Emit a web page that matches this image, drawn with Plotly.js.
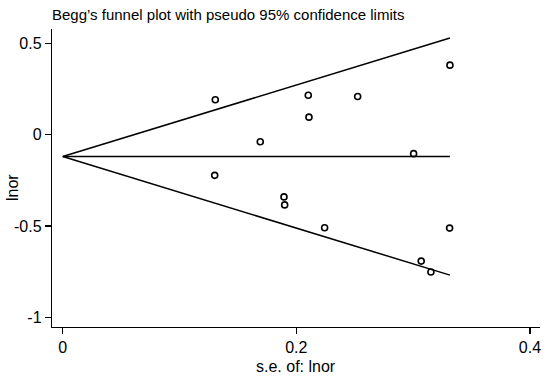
<!DOCTYPE html>
<html>
<head>
<meta charset="utf-8">
<script src="https://cdn.plot.ly/plotly-3.0.1.min.js"></script>
<style>html,body{margin:0;padding:0;background:#fff;}#chart{width:550px;height:380px;}</style>
</head>
<body>
<div id="chart"></div>
<script>
// Study standard errors and log odds ratios
var seValues = [0.1306, 0.2102, 0.2525, 0.2108, 0.1691, 0.3004, 0.1301, 0.1894, 0.1900, 0.2242, 0.3315, 0.3312, 0.3069, 0.3152];
var lnorValues = [0.192, 0.217, 0.210, 0.097, -0.038, -0.103, -0.222, -0.340, -0.384, -0.509, 0.382, -0.511, -0.692, -0.752];
var pooledEstimate = -0.119;
var z95 = 1.96;
var xTickVals = [0, 0.2, 0.4];
var xTickText = ["0", "0.2", "0.4"];
var yTickVals = [-1, -0.5, 0, 0.5];
var yTickText = ["-1", "-0.5", "0", "0.5"];

var seMax = Math.max.apply(null, seValues);
var lineX = [0, seMax];
var upperY = [pooledEstimate, pooledEstimate + z95 * seMax];
var lowerY = [pooledEstimate, pooledEstimate - z95 * seMax];
var centerY = [pooledEstimate, pooledEstimate];

var font = "Liberation Sans, Arial, sans-serif";
var lineStyle = {color: "#000", width: 1.5};

var traces = [
  {x: lineX, y: upperY, mode: "lines", line: lineStyle, hoverinfo: "skip"},
  {x: lineX, y: lowerY, mode: "lines", line: lineStyle, hoverinfo: "skip"},
  {x: lineX, y: centerY, mode: "lines", line: lineStyle, hoverinfo: "skip"},
  {x: seValues, y: lnorValues, mode: "markers",
   marker: {symbol: "circle-open", size: 6, color: "#000", line: {color: "#000", width: 1.6}}}
];

var layout = {
  width: 550, height: 380,
  paper_bgcolor: "#fff", plot_bgcolor: "#fff",
  showlegend: false,
  margin: {l: 52, r: 10, t: 29, b: 53},
  font: {family: font, size: 16, color: "#000"},
  title: {text: "Begg\u2019s funnel plot with pseudo 95% confidence limits",
          x: 52/550, xref: "container", xanchor: "left",
          y: 1 - 15/380, yref: "container", yanchor: "middle",
          font: {family: font, size: 15, color: "#000"}},
  xaxis: {range: [-0.0092, 0.4086], tickvals: xTickVals, ticktext: xTickText,
          ticks: "outside", ticklen: 6, tickwidth: 1.2, tickcolor: "#000",
          showline: true, linecolor: "#000", linewidth: 1.2, showgrid: false, zeroline: false,
          tickfont: {family: font, size: 16, color: "#000"}},
  yaxis: {range: [-1.053, 0.58], tickvals: yTickVals, ticktext: yTickText,
          ticks: "outside", ticklen: 6, tickwidth: 1.2, tickcolor: "#000",
          showline: true, linecolor: "#000", linewidth: 1.2, showgrid: false, zeroline: false,
          tickfont: {family: font, size: 16, color: "#000"}},
  annotations: [
    {text: "s.e. of: lnor", xref: "paper", yref: "paper", x: 0.5, y: -(366 - 327) / 298,
     xanchor: "center", yanchor: "middle", showarrow: false,
     font: {family: font, size: 16, color: "#000"}},
    {text: "lnor", xref: "paper", yref: "paper", x: -(52 - 12) / 488, y: (327 - 188) / 298,
     textangle: -90, xanchor: "center", yanchor: "middle", showarrow: false,
     font: {family: font, size: 16, color: "#000"}}
  ]
};

Plotly.newPlot("chart", traces, layout, {staticPlot: true, displayModeBar: false});
</script>
</body>
</html>
